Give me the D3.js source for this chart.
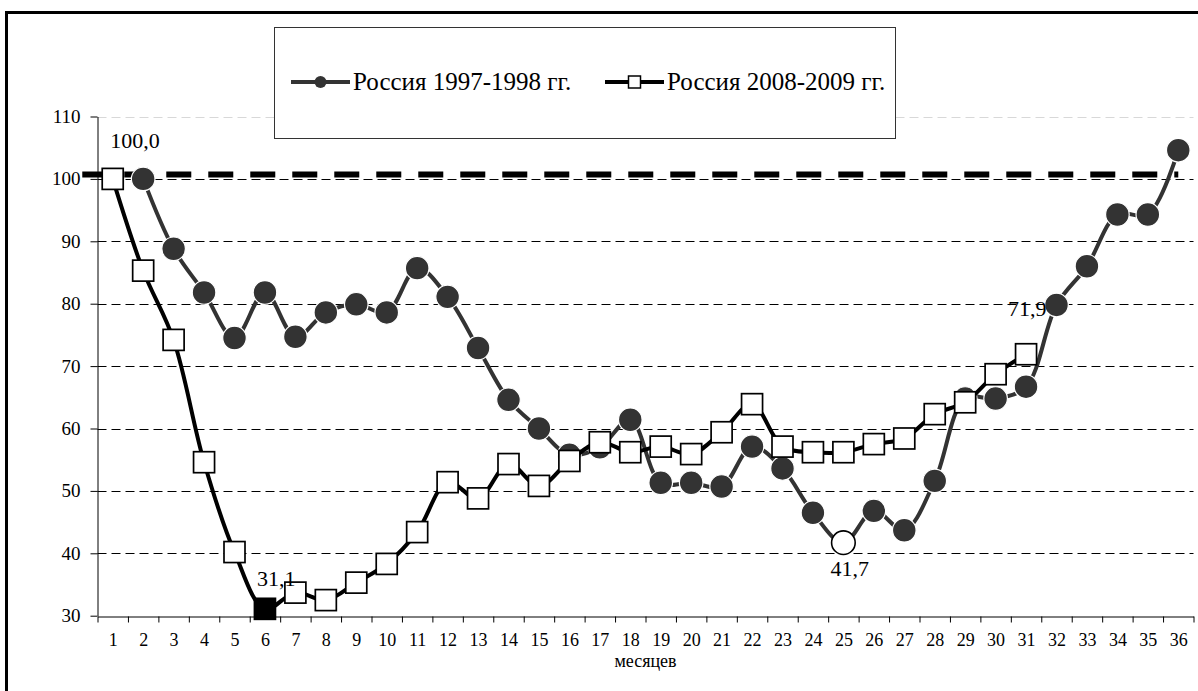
<!DOCTYPE html>
<html><head><meta charset="utf-8">
<script src="https://cdn.jsdelivr.net/npm/d3@7"></script>
<style>
html,body{margin:0;padding:0;background:#fff;}
svg{display:block;}
svg text{font-family:"Liberation Serif","Times New Roman","DejaVu Serif",serif !important;}
</style>
</head><body>
<svg id="chart" width="1198" height="691"></svg>
<script>
// ---- data ----
const months = d3.range(1, 37);                 // x categories 1..36
const yTicks = [30, 40, 50, 60, 70, 80, 90, 100, 110];
const xLabel = "месяцев";
const seriesNames = ["Россия 1997-1998 гг.", "Россия 2008-2009 гг."];
const months1997 = d3.range(2, 37);
const russia1997 = [100.0, 88.8, 81.8, 74.5, 81.8, 74.7, 78.6, 79.9, 78.6, 85.7,
  81.1, 72.9, 64.6, 60.0, 55.8, 57.0, 61.4, 51.3, 51.3, 50.7,
  57.1, 53.6, 46.5, 41.7, 46.8, 43.7, 51.6, 64.8, 64.8, 66.7,
  79.8, 86.0, 94.3, 94.3, 104.6];
const months2008 = d3.range(1, 32);
const russia2008 = [100.0, 85.3, 74.2, 54.6, 40.2, 31.1, 33.7, 32.5, 35.3, 38.3,
  43.4, 51.4, 48.8, 54.3, 50.8, 54.8, 57.8, 56.2, 57.1, 55.9,
  59.4, 63.9, 57.1, 56.2, 56.2, 57.5, 58.4, 62.3, 64.2, 68.7, 71.9];
const referenceLevel = 100.7;        // thick dashed reference line
const referenceSpan = [0, 36];
const annotations = [
  {series: 2008, month: 1, value: 100.0, text: "100,0", dx: -2.5, dy: -31},
  {series: 2008, month: 6, value: 31.1, text: "31,1", dx: -8, dy: -23},
  {series: 1997, month: 25, value: 41.7, text: "41,7", dx: -13, dy: 33},
  {series: 2008, month: 31, value: 71.9, text: "71,9", dx: -18, dy: -38}
];
const highlight2008 = 6;   // filled black square
const highlight1997 = 25;  // white circle

// ---- layout ----
const FONT = "Liberation Serif, Times New Roman, DejaVu Serif, serif";
const svg = d3.select("#chart").attr("font-family", FONT);
const x = d3.scaleLinear().domain([0.5, 36.5]).range([97.5, 1193.5]);
const y = d3.scaleLinear().domain([30, 110]).range([615.7, 116.5]);

// outer frame
svg.append("rect").attr("x", 6.5).attr("y", 12.5).attr("width", 1400).attr("height", 900)
  .attr("fill", "none").attr("stroke", "#000").attr("stroke-width", 3);

// gridlines
svg.append("g").selectAll("line").data(yTicks.filter(d => d > 30)).join("line")
  .attr("x1", x(0.5)).attr("x2", x(36.5))
  .attr("y1", d => Math.round(y(d)) + 0.5).attr("y2", d => Math.round(y(d)) + 0.5)
  .attr("stroke", d => d === 110 ? "#d8d8d8" : "#000")
  .attr("stroke-width", 1)
  .attr("stroke-dasharray", "9,5");

// y axis
const yAxis = d3.axisLeft(y).tickValues(yTicks).tickSize(7).tickPadding(10).tickSizeOuter(0);
const gy = svg.append("g").attr("transform", "translate(97.5,0)").call(yAxis)
  .attr("font-family", FONT).attr("font-size", 19);
gy.selectAll("text").attr("fill", "#000");
gy.selectAll("line,path").attr("stroke", "#000");

// x axis: tick marks at category boundaries, labels at centres
const axisY = Math.round(y(30)) + 0.5;
const xAxisTicks = d3.axisBottom(x).tickValues(d3.range(0.5, 37, 1)).tickSize(6).tickFormat("").tickSizeOuter(0);
const gx = svg.append("g").attr("transform", "translate(0," + axisY + ")").call(xAxisTicks);
gx.selectAll("line,path").attr("stroke", "#000");
const xAxisLabels = d3.axisBottom(x).tickValues(months).tickSize(0).tickPadding(17).tickFormat(d3.format("d"));
const gx2 = svg.append("g").attr("transform", "translate(0," + axisY + ")").call(xAxisLabels)
  .attr("font-family", FONT).attr("font-size", 18);
gx2.select(".domain").remove();
gx2.selectAll("text").attr("fill", "#000");

svg.append("text").attr("x", (x(0.5) + x(36.5)) / 2).attr("y", 667)
  .attr("text-anchor", "middle").attr("font-size", 18).text(xLabel);

// thick dashed reference line
svg.append("line")
  .attr("x1", x(referenceSpan[0])).attr("x2", x(referenceSpan[1]))
  .attr("y1", y(referenceLevel)).attr("y2", y(referenceLevel))
  .attr("stroke", "#000").attr("stroke-width", 6).attr("stroke-dasharray", "25,17");

// series 1997
const pts1997 = months1997.map((m, i) => [m, russia1997[i]]);
const line = d3.line().x(d => x(d[0])).y(d => y(d[1])).curve(d3.curveCatmullRom.alpha(0.5));
svg.append("path").attr("d", line(pts1997)).attr("fill", "none")
  .attr("stroke", "#333").attr("stroke-width", 4);
svg.append("g").selectAll("circle").data(pts1997).join("circle")
  .attr("cx", d => x(d[0])).attr("cy", d => y(d[1])).attr("r", 11.8)
  .attr("fill", d => d[0] === highlight1997 ? "#fff" : "#333")
  .attr("stroke", d => d[0] === highlight1997 ? "#000" : "#fff")
  .attr("stroke-width", d => d[0] === highlight1997 ? 1.6 : 1.2);

// series 2008
const pts2008 = months2008.map((m, i) => [m, russia2008[i]]);
svg.append("path").attr("d", line(pts2008)).attr("fill", "none")
  .attr("stroke", "#000").attr("stroke-width", 4);
const sq = 21;
svg.append("g").selectAll("rect").data(pts2008).join("rect")
  .attr("x", d => x(d[0]) - sq / 2).attr("y", d => y(d[1]) - sq / 2)
  .attr("width", sq).attr("height", sq)
  .attr("fill", d => d[0] === highlight2008 ? "#000" : "#fff")
  .attr("stroke", "#000").attr("stroke-width", 1.7);

// annotations
svg.append("g").selectAll("text").data(annotations).join("text")
  .attr("x", d => x(d.month) + d.dx).attr("y", d => y(d.value) + d.dy)
  .attr("font-size", 22).attr("fill", "#000").text(d => d.text);

// legend
const lg = svg.append("g");
lg.append("rect").attr("x", 274.5).attr("y", 27.5).attr("width", 621).attr("height", 111)
  .attr("fill", "#fff").attr("stroke", "#333").attr("stroke-width", 1);
const ly = 82;
lg.append("line").attr("x1", 291).attr("x2", 350).attr("y1", ly).attr("y2", ly)
  .attr("stroke", "#333").attr("stroke-width", 4);
lg.append("circle").attr("cx", 320.5).attr("cy", ly).attr("r", 6).attr("fill", "#333");
lg.append("text").attr("x", 353).attr("y", 90).attr("font-size", 25).text(seriesNames[0]);
lg.append("line").attr("x1", 605).attr("x2", 664).attr("y1", ly).attr("y2", ly)
  .attr("stroke", "#000").attr("stroke-width", 4);
lg.append("rect").attr("x", 628.5).attr("y", ly - 6).attr("width", 12).attr("height", 12)
  .attr("fill", "#fff").attr("stroke", "#000").attr("stroke-width", 1.5);
lg.append("text").attr("x", 667).attr("y", 90).attr("font-size", 25).text(seriesNames[1]);
</script>
</body></html>
